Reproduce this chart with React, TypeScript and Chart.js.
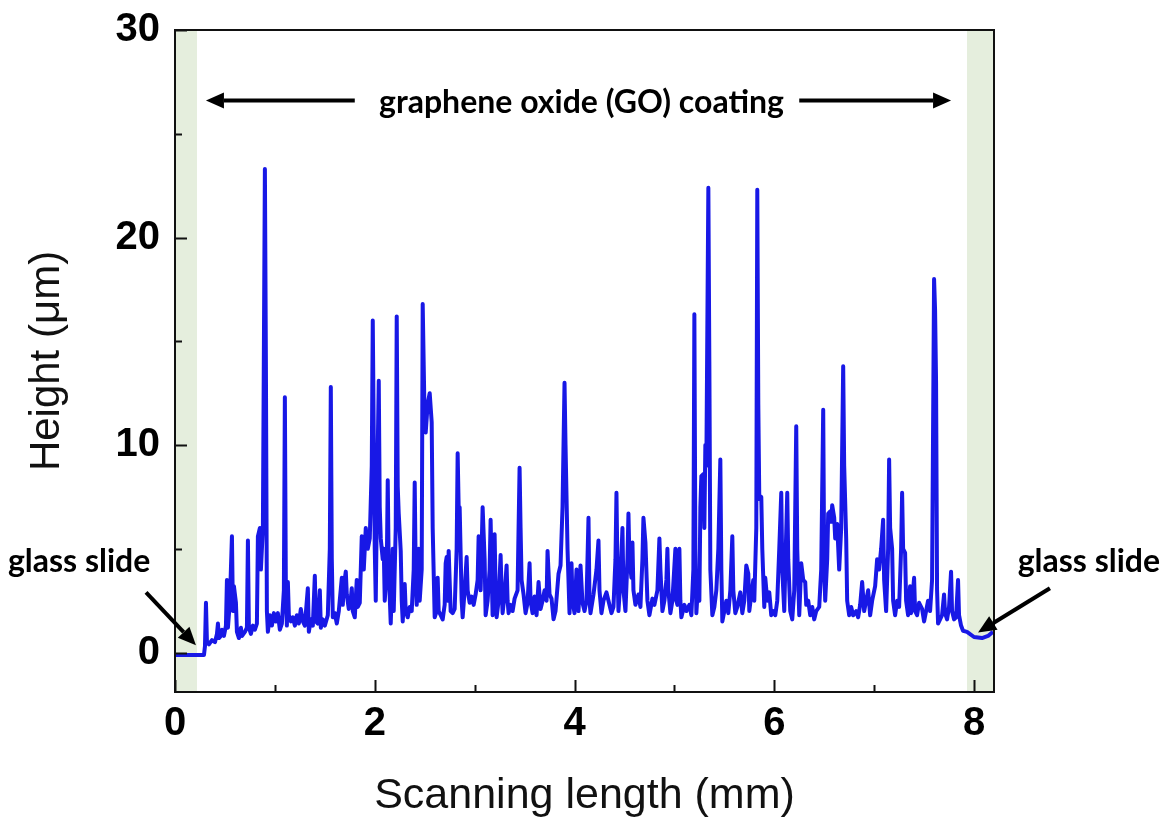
import React, { useEffect, useRef } from "react";
import { Chart, registerables } from "chart.js";

Chart.register(...registerables);

// Scanning length (mm)
const scanX: number[] = [
  0.00, 0.29, 0.30, 0.31, 0.32, 0.34, 0.37, 0.40, 0.42, 0.43, 0.44, 0.46, 0.47, 0.49, 0.51, 0.52, 0.53, 0.55, 0.57, 0.58,
  0.59, 0.61, 0.62, 0.64, 0.66, 0.67, 0.70, 0.72, 0.73, 0.74, 0.76, 0.78, 0.80, 0.82, 0.83, 0.85, 0.86, 0.88, 0.90, 0.91,
  0.92, 0.93, 0.95, 0.97, 0.99, 1.01, 1.03, 1.05, 1.07, 1.09, 1.10, 1.11, 1.12, 1.13, 1.14, 1.16, 1.18, 1.20, 1.22, 1.24,
  1.26, 1.28, 1.30, 1.33, 1.34, 1.36, 1.38, 1.40, 1.41, 1.43, 1.45, 1.46, 1.48, 1.50, 1.53, 1.55, 1.56, 1.57, 1.58, 1.60,
  1.62, 1.64, 1.67, 1.68, 1.69, 1.71, 1.72, 1.74, 1.76, 1.77, 1.78, 1.80, 1.82, 1.83, 1.85, 1.87, 1.89, 1.91, 1.93, 1.95,
  1.97, 1.98, 2.00, 2.01, 2.02, 2.04, 2.05, 2.06, 2.08, 2.09, 2.10, 2.12, 2.13, 2.14, 2.16, 2.17, 2.18, 2.19, 2.21, 2.22,
  2.23, 2.24, 2.26, 2.27, 2.28, 2.30, 2.31, 2.33, 2.35, 2.37, 2.39, 2.40, 2.41, 2.42, 2.44, 2.45, 2.47, 2.48, 2.50, 2.51,
  2.53, 2.55, 2.57, 2.58, 2.60, 2.62, 2.63, 2.64, 2.66, 2.68, 2.70, 2.71, 2.72, 2.73, 2.74, 2.76, 2.78, 2.80, 2.82, 2.83,
  2.84, 2.85, 2.87, 2.88, 2.90, 2.92, 2.93, 2.95, 2.97, 2.99, 3.01, 3.03, 3.04, 3.06, 3.08, 3.10, 3.11, 3.13, 3.15, 3.16,
  3.17, 3.18, 3.19, 3.20, 3.21, 3.22, 3.24, 3.26, 3.27, 3.28, 3.30, 3.32, 3.33, 3.34, 3.36, 3.38, 3.40, 3.43, 3.44, 3.45,
  3.46, 3.47, 3.49, 3.51, 3.53, 3.55, 3.56, 3.58, 3.60, 3.62, 3.64, 3.66, 3.68, 3.70, 3.72, 3.73, 3.75, 3.77, 3.79, 3.81,
  3.84, 3.86, 3.88, 3.90, 3.91, 3.93, 3.95, 3.97, 3.98, 4.00, 4.02, 4.04, 4.06, 4.08, 4.10, 4.12, 4.14, 4.15, 4.16, 4.19,
  4.22, 4.24, 4.25, 4.27, 4.29, 4.32, 4.34, 4.37, 4.39, 4.41, 4.42, 4.43, 4.44, 4.46, 4.48, 4.49, 4.51, 4.53, 4.54, 4.55,
  4.57, 4.58, 4.59, 4.61, 4.64, 4.66, 4.68, 4.69, 4.71, 4.73, 4.75, 4.78, 4.80, 4.83, 4.85, 4.86, 4.88, 4.90, 4.92, 4.93,
  4.94, 4.96, 4.98, 5.01, 5.02, 5.03, 5.05, 5.06, 5.07, 5.10, 5.12, 5.15, 5.17, 5.19, 5.20, 5.21, 5.22, 5.24, 5.25, 5.26,
  5.27, 5.29, 5.30, 5.31, 5.32, 5.34, 5.35, 5.36, 5.38, 5.40, 5.42, 5.44, 5.46, 5.47, 5.48, 5.50, 5.52, 5.54, 5.56, 5.58,
  5.59, 5.61, 5.63, 5.66, 5.68, 5.70, 5.72, 5.74, 5.75, 5.77, 5.79, 5.80, 5.82, 5.83, 5.84, 5.85, 5.87, 5.88, 5.90, 5.91,
  5.93, 5.95, 5.97, 5.99, 6.01, 6.03, 6.05, 6.07, 6.08, 6.10, 6.11, 6.13, 6.14, 6.16, 6.18, 6.20, 6.22, 6.23, 6.25, 6.26,
  6.27, 6.29, 6.31, 6.32, 6.34, 6.36, 6.38, 6.40, 6.42, 6.45, 6.47, 6.49, 6.50, 6.51, 6.53, 6.54, 6.56, 6.57, 6.58, 6.60,
  6.61, 6.63, 6.65, 6.67, 6.69, 6.70, 6.72, 6.73, 6.75, 6.77, 6.79, 6.82, 6.84, 6.86, 6.88, 6.90, 6.92, 6.94, 6.96, 6.98,
  7.01, 7.03, 7.05, 7.07, 7.09, 7.10, 7.12, 7.14, 7.15, 7.16, 7.18, 7.19, 7.21, 7.23, 7.25, 7.27, 7.28, 7.29, 7.31, 7.32,
  7.34, 7.36, 7.37, 7.39, 7.40, 7.41, 7.43, 7.45, 7.48, 7.50, 7.52, 7.54, 7.56, 7.58, 7.60, 7.61, 7.62, 7.63, 7.64, 7.66,
  7.68, 7.70, 7.71, 7.73, 7.75, 7.77, 7.78, 7.80, 7.82, 7.84, 7.85, 7.87, 7.89, 7.93, 8.00, 8.08, 8.14, 8.19,
];

// Height (µm)
const heightY: number[] = [
  -0.12, -0.12, 0.3, 2.4, 0.5, 0.4, 0.6, 0.5, 0.9, 1.4, 0.7, 0.8, 1.1, 0.8, 1.3, 3.5, 1.2, 2.5, 5.6, 2.0,
  3.2, 2.4, 1.0, 0.7, 1.2, 0.8, 1.0, 1.2, 5.4, 1.2, 0.9, 1.3, 1.1, 1.4, 5.6, 6.0, 4.0, 6.0, 23.3, 14.0,
  2.0, 1.0, 1.8, 1.3, 1.9, 1.5, 1.9, 1.1, 1.4, 3.0, 12.3, 3.0, 1.3, 3.4, 1.8, 1.5, 1.7, 1.3, 1.8, 1.4,
  2.1, 1.5, 1.3, 3.1, 1.0, 1.6, 1.3, 3.7, 1.5, 1.4, 3.0, 1.2, 1.6, 1.3, 1.8, 5.0, 12.8, 4.5, 1.7, 1.9,
  1.4, 2.0, 3.6, 2.3, 3.2, 3.9, 2.8, 2.1, 2.6, 3.1, 2.0, 1.7, 3.5, 2.2, 2.4, 5.6, 4.0, 6.0, 5.0, 5.5,
  9.0, 16.0, 5.0, 2.5, 6.5, 13.1, 7.0, 5.5, 4.5, 5.0, 2.5, 4.0, 8.3, 4.0, 1.4, 3.0, 5.0, 2.0, 6.0, 16.2,
  8.0, 6.7, 4.9, 2.5, 1.5, 3.3, 2.0, 1.7, 2.2, 2.0, 4.0, 8.2, 4.0, 2.3, 5.0, 2.5, 4.0, 16.8, 11.0, 10.6,
  12.0, 12.5, 11.1, 6.0, 1.7, 2.0, 3.6, 2.0, 1.8, 1.6, 2.3, 4.3, 4.6, 2.5, 4.9, 2.0, 1.9, 2.1, 5.0, 9.6,
  7.0, 7.0, 2.5, 1.7, 3.0, 4.6, 3.0, 2.4, 2.7, 2.3, 2.8, 3.5, 5.6, 3.0, 7.0, 4.5, 1.8, 2.5, 4.0, 6.4,
  4.0, 1.8, 3.0, 5.7, 3.0, 1.7, 2.5, 4.7, 3.0, 1.9, 2.8, 4.2, 2.5, 1.9, 2.3, 2.0, 2.6, 3.0, 6.0, 8.9,
  6.0, 3.5, 2.8, 1.9, 2.4, 4.3, 2.5, 1.9, 2.7, 1.8, 3.4, 2.1, 2.5, 3.0, 2.5, 4.9, 2.8, 2.6, 1.6, 2.0,
  3.8, 4.2, 7.0, 13.0, 10.0, 5.0, 1.9, 4.3, 2.5, 1.9, 4.0, 2.0, 4.2, 2.4, 2.0, 2.5, 6.5, 2.5, 1.9, 2.8,
  4.0, 5.4, 3.0, 1.9, 2.5, 2.9, 2.5, 1.9, 2.2, 4.5, 7.7, 4.0, 2.0, 3.5, 6.0, 3.0, 2.0, 4.5, 6.7, 4.5,
  3.6, 5.3, 3.0, 2.3, 2.8, 2.2, 4.5, 6.5, 5.3, 2.5, 1.8, 2.6, 2.3, 3.0, 5.5, 4.0, 2.0, 2.5, 3.5, 5.0,
  3.0, 1.9, 2.5, 5.0, 2.5, 2.3, 5.0, 2.5, 1.7, 2.3, 2.0, 2.3, 1.8, 4.0, 16.3, 5.0, 1.9, 3.5, 2.5, 7.0,
  8.5, 8.6, 6.0, 10.0, 9.0, 22.4, 14.0, 4.0, 1.8, 2.2, 3.0, 5.0, 9.3, 4.0, 1.5, 2.0, 2.5, 1.9, 3.0, 5.6,
  3.0, 1.9, 2.2, 2.9, 1.9, 2.5, 4.2, 3.8, 2.0, 2.8, 3.5, 2.5, 6.0, 22.3, 12.0, 7.4, 7.5, 5.0, 2.2, 3.6,
  2.5, 2.9, 1.8, 2.0, 1.8, 2.5, 5.0, 7.7, 4.0, 2.0, 4.0, 7.7, 4.5, 2.0, 1.6, 3.0, 10.9, 5.0, 1.8, 3.0,
  4.3, 3.5, 3.4, 2.3, 2.5, 1.8, 2.2, 1.6, 2.0, 2.2, 4.0, 11.7, 4.0, 2.5, 4.5, 6.7, 6.8, 6.3, 7.1, 6.5,
  5.5, 6.2, 4.0, 6.0, 13.8, 9.0, 5.5, 2.5, 1.8, 2.2, 1.8, 2.0, 1.7, 2.3, 3.4, 2.0, 2.5, 3.0, 1.8, 2.5,
  3.2, 4.5, 4.0, 5.0, 6.4, 3.5, 2.0, 5.0, 9.3, 6.0, 5.0, 2.5, 1.8, 2.5, 2.2, 5.0, 7.7, 5.0, 4.8, 2.5,
  1.8, 3.2, 1.9, 3.0, 3.6, 2.0, 1.8, 2.4, 2.1, 1.5, 2.0, 2.5, 2.0, 3.5, 18.0, 16.5, 13.0, 3.0, 1.4, 1.6,
  1.8, 2.8, 1.9, 1.6, 2.2, 3.9, 2.0, 1.6, 1.7, 3.5, 1.8, 1.3, 1.05, 1.0, 0.75, 0.7, 0.8, 1.0,
];

// Axis ticks
const xTickLabels: number[] = [0, 2, 4, 6, 8];
const xMinorTicks: number[] = [1, 3, 5, 7];
const yTickLabels: number[] = [0, 10, 20, 30];
const yMinorTicks: number[] = [5, 15, 25];

// Glass slide regions (mm)
const glassLeft: [number, number] = [0, 0.22];
const glassRight: [number, number] = [7.93, 8.2];

const X_MIN = 0;
const X_MAX = 8.2;
const Y_MIN = -1.9;
const Y_MAX = 30;

const coatingLabel = "graphene oxide (GO) coating";
const glassLabel = "glass slide";

function drawArrow(
  ctx: CanvasRenderingContext2D,
  x1: number,
  y1: number,
  x2: number,
  y2: number,
  width: number,
  headLen: number,
  headHalf: number
) {
  const ang = Math.atan2(y2 - y1, x2 - x1);
  const bx = x2 - headLen * Math.cos(ang);
  const by = y2 - headLen * Math.sin(ang);
  ctx.save();
  ctx.strokeStyle = "#000";
  ctx.fillStyle = "#000";
  ctx.lineWidth = width;
  ctx.lineCap = "butt";
  ctx.beginPath();
  ctx.moveTo(x1, y1);
  ctx.lineTo(bx, by);
  ctx.stroke();
  ctx.beginPath();
  ctx.moveTo(x2, y2);
  ctx.lineTo(bx + headHalf * Math.sin(ang), by - headHalf * Math.cos(ang));
  ctx.lineTo(bx - headHalf * Math.sin(ang), by + headHalf * Math.cos(ang));
  ctx.closePath();
  ctx.fill();
  ctx.restore();
}

const decorPlugin = {
  id: "decor",
  beforeDatasetsDraw(chart: any) {
    const { ctx, chartArea, scales } = chart;
    const xs = scales.x;
    ctx.save();
    ctx.fillStyle = "#e5eedd";
    const l1 = Math.max(chartArea.left, xs.getPixelForValue(glassLeft[0]));
    const r1 = xs.getPixelForValue(glassLeft[1]);
    ctx.fillRect(l1, chartArea.top, r1 - l1, chartArea.bottom - chartArea.top);
    const l2 = xs.getPixelForValue(glassRight[0]);
    const r2 = Math.min(chartArea.right, xs.getPixelForValue(glassRight[1]));
    ctx.fillRect(l2, chartArea.top, r2 - l2, chartArea.bottom - chartArea.top);
    ctx.restore();
  },
  afterDraw(chart: any) {
    const { ctx, chartArea, scales } = chart;
    const xs = scales.x;
    const ys = scales.y;
    const { left, right, top, bottom } = chartArea;
    ctx.save();
    // ticks
    ctx.strokeStyle = "#111";
    ctx.lineWidth = 2;
    ctx.beginPath();
    xTickLabels.forEach((v) => {
      const p = Math.round(xs.getPixelForValue(v)) + 0.5;
      ctx.moveTo(p, bottom);
      ctx.lineTo(p, bottom - 12);
    });
    xMinorTicks.forEach((v) => {
      const p = Math.round(xs.getPixelForValue(v)) + 0.5;
      ctx.moveTo(p, bottom);
      ctx.lineTo(p, bottom - 7);
    });
    yTickLabels.forEach((v) => {
      const p = Math.round(ys.getPixelForValue(v)) + 0.5;
      ctx.moveTo(left, p);
      ctx.lineTo(left + 12, p);
    });
    yMinorTicks.forEach((v) => {
      const p = Math.round(ys.getPixelForValue(v)) + 0.5;
      ctx.moveTo(left, p);
      ctx.lineTo(left + 7, p);
    });
    ctx.stroke();
    // frame
    ctx.lineWidth = 2;
    ctx.strokeStyle = "#111";
    ctx.strokeRect(left, top, right - left, bottom - top);

    // annotations
    const px = (v: number) => xs.getPixelForValue(v);
    const py = (v: number) => ys.getPixelForValue(v);
    ctx.fillStyle = "#000";
    ctx.textAlign = "center";
    ctx.textBaseline = "middle";
    ctx.font = "bold 32px Lato, 'Open Sans', sans-serif";
    ctx.fillText(coatingLabel, px(4.07), py(26.5));
    drawArrow(ctx, px(1.8), py(26.6), px(0.31), py(26.6), 4, 18, 8);
    drawArrow(ctx, px(6.25), py(26.6), px(7.77), py(26.6), 4, 18, 8);

    ctx.fillText(glassLabel, px(-0.96), py(4.4));
    ctx.fillText(glassLabel, px(9.15), py(4.4));
    drawArrow(ctx, px(-0.29), py(2.9), px(0.21), py(0.35), 4, 18, 8);
    drawArrow(ctx, px(8.76), py(3.1), px(8.04), py(0.97), 4, 18, 8);
    ctx.restore();
  },
};

export default function App() {
  const canvasRef = useRef<HTMLCanvasElement | null>(null);

  useEffect(() => {
    document.body.style.margin = "0";
    const canvas = canvasRef.current;
    if (!canvas) return;
    const points = scanX.map((x, i) => ({ x, y: heightY[i] }));
    const chart = new Chart(canvas, {
      type: "line",
      data: {
        datasets: [
          {
            data: points,
            borderColor: "#1818e6",
            borderWidth: 4,
            borderJoinStyle: "round",
            pointRadius: 0,
            tension: 0,
            fill: false,
          },
        ],
      },
      options: {
        animation: false,
        responsive: false,
        maintainAspectRatio: false,
        layout: { padding: { top: 30, right: 174, left: 0, bottom: 0 } },
        plugins: {
          legend: { display: false },
          tooltip: { enabled: false },
        },
        scales: {
          x: {
            type: "linear",
            min: X_MIN,
            max: X_MAX,
            grid: { display: false, drawTicks: false },
            border: { display: false },
            afterBuildTicks: (s: any) => {
              s.ticks = xTickLabels.map((v) => ({ value: v }));
            },
            afterFit: (s: any) => {
              s.height = 131;
            },
            ticks: {
              color: "#000",
              padding: 8,
              maxRotation: 0,
              autoSkip: false,
              font: { family: "'Liberation Sans', Arial, sans-serif", size: 40, weight: "bold" },
              callback: (v: any) => String(v),
            },
            title: {
              display: true,
              text: "Scanning length (mm)",
              color: "#111",
              font: { family: "'Liberation Sans', Arial, sans-serif", size: 43, weight: "normal", lineHeight: 1.2 },
              padding: { top: 0, bottom: 1 },
            },
          },
          y: {
            type: "linear",
            min: Y_MIN,
            max: Y_MAX,
            grid: { display: false, drawTicks: false },
            border: { display: false },
            afterBuildTicks: (s: any) => {
              s.ticks = yTickLabels.map((v) => ({ value: v }));
            },
            afterFit: (s: any) => {
              s.width = 175;
              s.paddingTop = 0;
              s.paddingBottom = 0;
            },
            ticks: {
              color: "#000",
              padding: 15,
              autoSkip: false,
              font: { family: "'Liberation Sans', Arial, sans-serif", size: 40, weight: "bold", lineHeight: 0.6 },
              callback: (v: any) => String(v),
            },
            title: {
              display: true,
              text: "Height (μm)",
              color: "#111",
              font: { family: "'Liberation Sans', Arial, sans-serif", size: 42, weight: "normal", lineHeight: 1.2 },
              padding: { top: 22, bottom: 0 },
            },
          },
        },
      },
      plugins: [decorPlugin],
    });
    return () => chart.destroy();
  }, []);

  return (
    <div style={{ width: 1168, height: 823, background: "#fff" }}>
      <canvas ref={canvasRef} width={1168} height={823} style={{ display: "block" }} />
    </div>
  );
}
